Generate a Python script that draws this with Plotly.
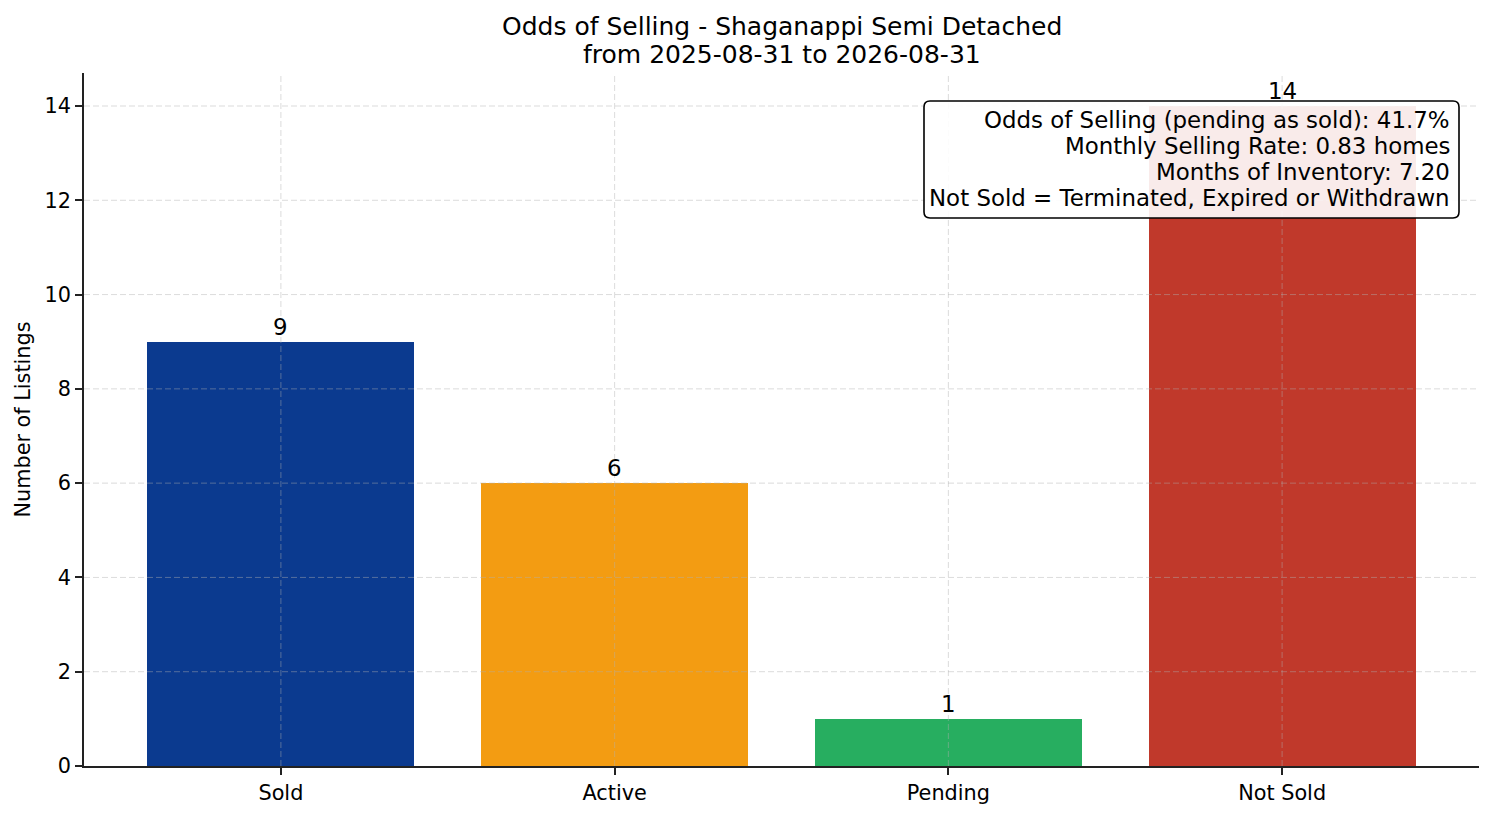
import plotly.graph_objects as go

categories = ["Sold", "Active", "Pending", "Not Sold"]
counts = [9, 6, 1, 14]
bar_colors = ["#0B3A8F", "#F39C12", "#27AE60", "#C0392B"]
y_ticks = [0, 2, 4, 6, 8, 10, 12, 14]
title_lines = ["Odds of Selling - Shaganappi Semi Detached", "from 2025-08-31 to 2026-08-31"]
info_lines = [
    "Odds of Selling (pending as sold): 41.7%",
    "Monthly Selling Rate: 0.83 homes",
    "Months of Inventory: 7.20",
    "Not Sold = Terminated, Expired or Withdrawn",
]

FONT = "DejaVu Sans"
# page body has an 8px margin; shrink the figure so the plot lands where the reference has it
OFF = 8
W, H = 1494 - OFF, 816 - OFF
ML, MR, MT, MB = 84 - OFF, 15, 73 - OFF, 50
PW, PH = W - ML - MR, H - MT - MB


def px_y(y_screen):
    # screen y (reference pixels) -> paper y
    return (OFF + H - MB - y_screen) / PH


def px_x(x_screen):
    return (x_screen - OFF - ML) / PW


x_idx = list(range(len(categories)))

fig = go.Figure()
fig.add_trace(go.Bar(
    x=x_idx, y=counts, width=0.8,
    marker=dict(color=bar_colors, line=dict(width=0)),
    hoverinfo="skip", showlegend=False,
))

# gridlines drawn above bars (as in the reference)
grid_col = "rgba(176,176,176,0.5)"
shapes = []
for t in y_ticks[1:]:
    shapes.append(dict(type="line", xref="paper", yref="y", x0=0, x1=1, y0=t, y1=t,
                       line=dict(color=grid_col, width=0.9, dash="6px,3px"), layer="above"))
for i in x_idx:
    shapes.append(dict(type="line", xref="x", yref="paper", x0=i, x1=i, y0=0, y1=1,
                       line=dict(color=grid_col, width=0.9, dash="6px,3px"), layer="above"))

# rounded info box
bx0, bx1 = px_x(924), px_x(1459)
by1, by0 = px_y(101), px_y(218)
rx, ry = 6 / PW, 6 / PH
path = (f"M {bx0+rx},{by1} L {bx1-rx},{by1} Q {bx1},{by1} {bx1},{by1-ry} "
        f"L {bx1},{by0+ry} Q {bx1},{by0} {bx1-rx},{by0} "
        f"L {bx0+rx},{by0} Q {bx0},{by0} {bx0},{by0+ry} "
        f"L {bx0},{by1-ry} Q {bx0},{by1} {bx0+rx},{by1} Z")
shapes.append(dict(type="path", xref="paper", yref="paper", path=path,
                   fillcolor="rgba(255,255,255,0.9)",
                   line=dict(color="black", width=1.6), layer="above"))

annotations = []
# bar value labels
for i, v in zip(x_idx, counts):
    annotations.append(dict(x=i, y=v, xref="x", yref="y", text=str(v), showarrow=False,
                            xanchor="center", yanchor="bottom", yshift=0,
                            font=dict(family=FONT, size=22.9, color="black")))
# info text lines
line_centers = [120, 146, 172, 198]
for txt, yc in zip(info_lines, line_centers):
    annotations.append(dict(x=px_x(1452), y=px_y(yc), xref="paper", yref="paper",
                            text=txt, showarrow=False, xanchor="right", yanchor="middle",
                            align="right", font=dict(family=FONT, size=22.9, color="black")))
# title lines
for txt, yc in zip(title_lines, [26, 54]):
    annotations.append(dict(x=0.5, y=px_y(yc), xref="paper", yref="paper",
                            text=txt, showarrow=False, xanchor="center", yanchor="middle",
                            font=dict(family=FONT, size=25, color="black")))

fig.update_layout(
    width=W, height=H,
    margin=dict(l=ML, r=MR, t=MT, b=MB, autoexpand=False),
    paper_bgcolor="white", plot_bgcolor="white",
    font=dict(family=FONT, size=20.8, color="black"),
    shapes=shapes, annotations=annotations,
    bargap=0,
)
fig.update_xaxes(
    range=[-0.59, 3.59], tickmode="array", tickvals=x_idx, ticktext=categories,
    showgrid=False, zeroline=False,
    showline=True, linecolor="#222", linewidth=1.6,
    ticks="outside", ticklen=7, tickwidth=1.6, tickcolor="#222",
    tickfont=dict(family=FONT, size=20.8, color="black"),
    layer="above traces", automargin=False,
)
fig.update_yaxes(
    range=[0, 14.7], tickmode="array", tickvals=y_ticks,
    showgrid=False, zeroline=False,
    showline=True, linecolor="#222", linewidth=1.6,
    ticks="outside", ticklen=7, tickwidth=1.6, tickcolor="#222",
    tickfont=dict(family=FONT, size=20.8, color="black"),
    title=dict(text="Number of Listings", font=dict(family=FONT, size=20.8, color="black"), standoff=8),
    layer="above traces", automargin=False,
)

fig.write_html("out.html")
